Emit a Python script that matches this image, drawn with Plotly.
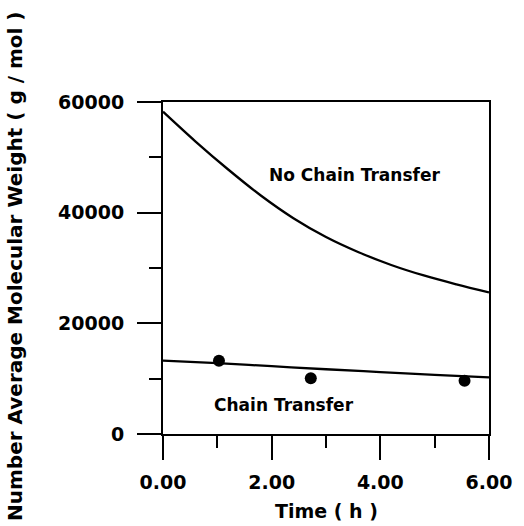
import plotly.graph_objects as go

# Data
time_nct = [0.0, 0.6, 1.2, 1.8, 2.4, 3.0, 3.6, 4.2, 4.8, 5.4, 6.0]
mn_nct = [58250, 52850, 47800, 43100, 39000, 35600, 32850, 30550, 28650, 27050, 25600]

time_ct = [0, 1, 2, 3, 4, 5, 6]
mn_ct = [13250, 12800, 12250, 11700, 11200, 10700, 10250]

time_exp = [1.03, 2.72, 5.55]
mn_exp = [13250, 10060, 9630]

x_ticks = [0, 2, 4, 6]
y_ticks = [0, 20000, 40000, 60000]

label_nct = "No Chain Transfer"
label_ct = "Chain Transfer"
x_title = "Time ( h )"
y_title = "Number Average Molecular Weight ( g / mol )"

FONT = "DejaVu Sans, sans-serif"

fig = go.Figure()
fig.add_trace(go.Scatter(x=time_nct, y=mn_nct, mode="lines",
                         line=dict(color="black", width=2.3, shape="spline"),
                         showlegend=False))
fig.add_trace(go.Scatter(x=time_ct, y=mn_ct, mode="lines",
                         line=dict(color="black", width=2.3, shape="spline"),
                         showlegend=False))
fig.add_trace(go.Scatter(x=time_exp, y=mn_exp, mode="markers",
                         marker=dict(color="black", size=12, symbol="circle"),
                         showlegend=False))

fig.add_annotation(x=3.52, y=46800, text=label_nct, showarrow=False,
                   font=dict(family=FONT, size=17, color="black", weight="bold"),
                   xanchor="center", yanchor="middle")
fig.add_annotation(x=2.22, y=5240, text=label_ct, showarrow=False,
                   font=dict(family=FONT, size=17, color="black", weight="bold"),
                   xanchor="center", yanchor="middle")

fig.add_annotation(xref="paper", yref="paper", x=0.5, y=-0.232, text=x_title,
                   showarrow=False, xanchor="center", yanchor="middle",
                   font=dict(family=FONT, size=19, color="black", weight="bold"))
fig.add_annotation(xref="paper", yref="paper", x=-0.452, y=0.505, text=y_title,
                   showarrow=False, xanchor="center", yanchor="middle", textangle=-90,
                   font=dict(family=FONT, size=20, color="black", weight="bold"))

axis_common = dict(
    showgrid=False, zeroline=False, showline=True, linecolor="black", linewidth=2,
    mirror=True, ticks="outside", ticklen=24, tickwidth=2, tickcolor="black",
    tickfont=dict(family=FONT, size=19, color="black", weight="bold"),
)

fig.update_xaxes(range=[0, 6], tickvals=x_ticks, tickformat=".2f",
                 minor=dict(dtick=1, ticklen=12, tickwidth=2, tickcolor="black", ticks="outside"),
                 ticklabelstandoff=6, **axis_common)
fig.update_yaxes(range=[0, 60000], tickvals=y_ticks, tickformat="d",
                 minor=dict(dtick=10000, ticklen=12, tickwidth=2, tickcolor="black", ticks="outside"),
                 ticklabelstandoff=9, **axis_common)

fig.update_layout(width=524, height=526,
                  margin=dict(l=163, r=29, t=102, b=92),
                  plot_bgcolor="white", paper_bgcolor="white")

fig.write_html("out.html")
